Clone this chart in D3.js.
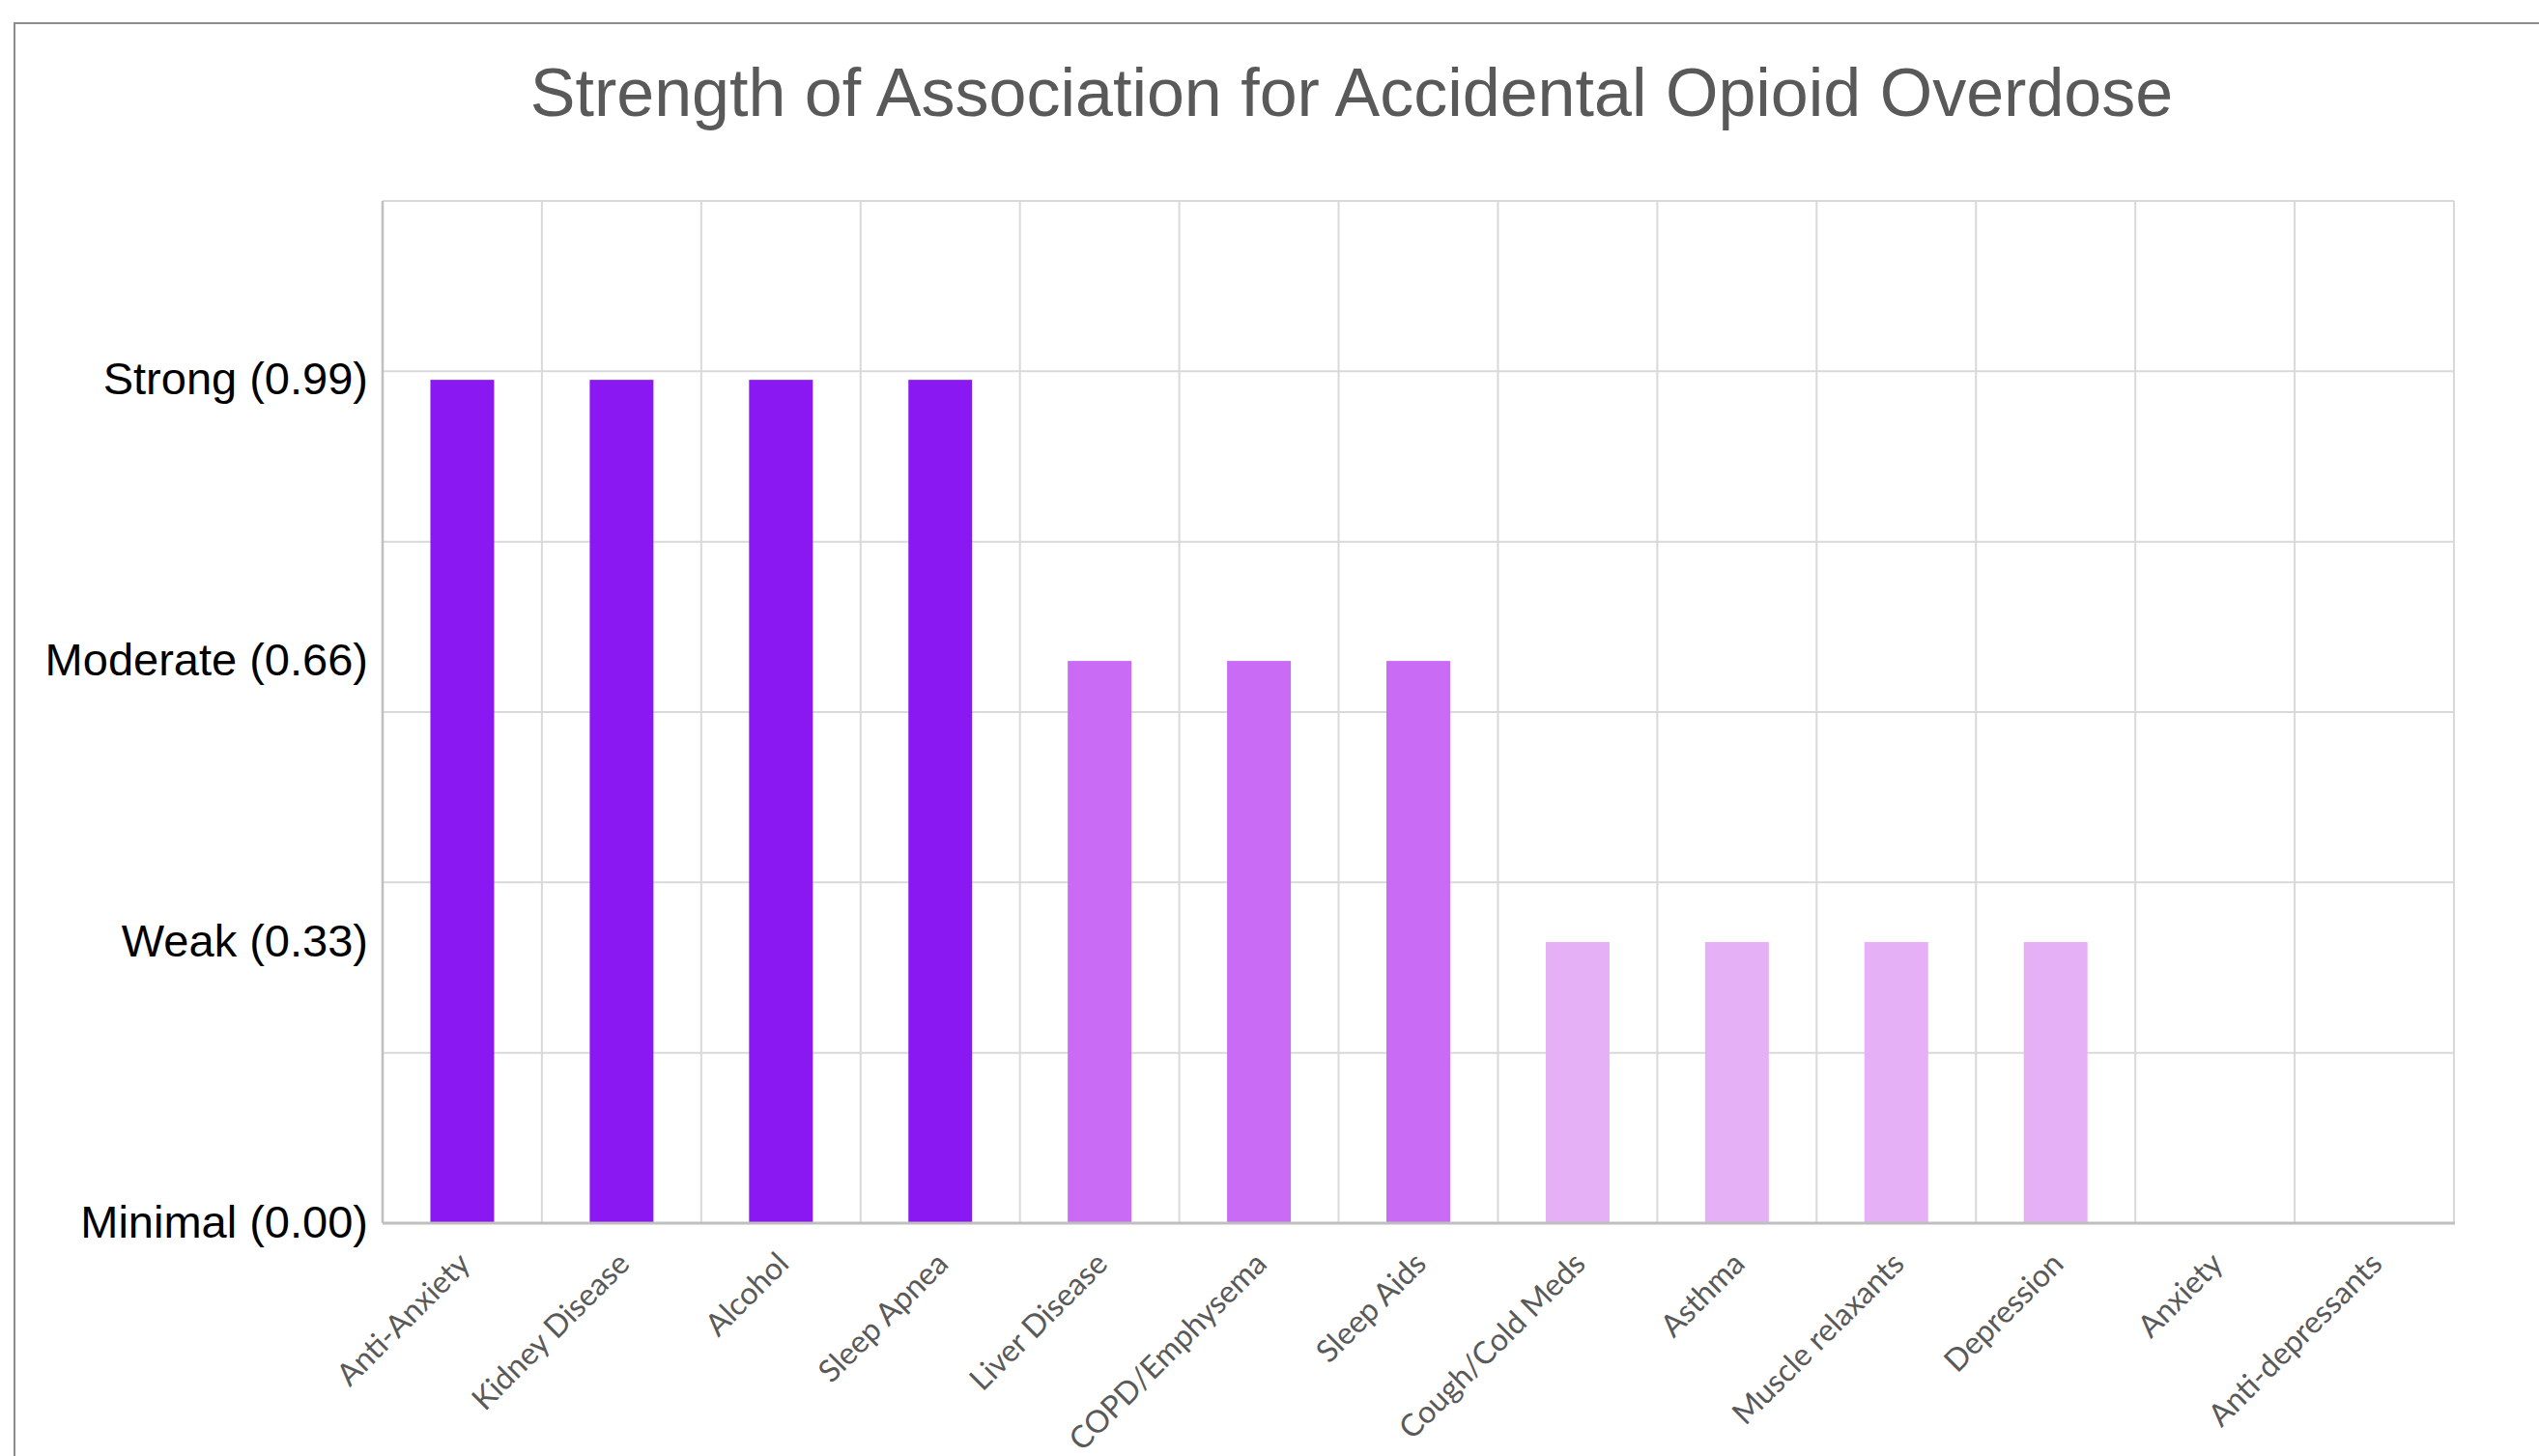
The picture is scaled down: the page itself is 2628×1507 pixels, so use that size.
<!DOCTYPE html>
<html>
<head>
<meta charset="utf-8">
<script src="https://cdn.jsdelivr.net/npm/d3@7"></script>
<style>
  html, body { margin: 0; padding: 0; background: #ffffff; }
  svg { display: block; }
</style>
</head>
<body>
<svg id="chart" width="2628" height="1507"></svg>
<script>
const categories = ["Anti-Anxiety", "Kidney Disease", "Alcohol", "Sleep Apnea", "Liver Disease",
  "COPD/Emphysema", "Sleep Aids", "Cough/Cold Meds", "Asthma", "Muscle relaxants",
  "Depression", "Anxiety", "Anti-depressants"];
const values = [0.99, 0.99, 0.99, 0.99, 0.66, 0.66, 0.66, 0.33, 0.33, 0.33, 0.33, 0, 0];
const tickValues = [0, 0.33, 0.66, 0.99];
const tickLabels = ["Minimal (0.00)", "Weak (0.33)", "Moderate (0.66)", "Strong (0.99)"];
const gridValues = [0, 0.2, 0.4, 0.6, 0.8, 1.0, 1.2];
const levelColors = { 0.99: "#8a18f3", 0.66: "#c96bf5", 0.33: "#e6b0f6", 0: "#e6b0f6" };
const title = "Strength of Association for Accidental Opioid Overdose";

const svg = d3.select("#chart");
const W = 2628, H = 1507;
const plot = { left: 396, right: 2540, top: 208, bottom: 1266 };

// outer frame
svg.append("rect")
  .attr("x", 15).attr("y", 24)
  .attr("width", W + 20).attr("height", H + 20)
  .attr("fill", "none").attr("stroke", "#8c8c8c").attr("stroke-width", 2);

const x = d3.scaleBand().domain(categories).range([plot.left, plot.right]).padding(0);
const y = d3.scaleLinear().domain([0, 1.2]).range([plot.bottom, plot.top]);

// horizontal gridlines
svg.append("g").selectAll("line").data(gridValues).join("line")
  .attr("x1", plot.left).attr("x2", plot.right)
  .attr("y1", d => y(d)).attr("y2", d => y(d))
  .attr("stroke", "#d9d9d9").attr("stroke-width", 2);

// vertical gridlines at band boundaries
const bounds = categories.map(c => x(c)).concat([plot.right]);
svg.append("g").selectAll("line").data(bounds).join("line")
  .attr("x1", d => d).attr("x2", d => d)
  .attr("y1", plot.top).attr("y2", plot.bottom)
  .attr("stroke", "#d9d9d9").attr("stroke-width", 2);

// bars
const barW = x.bandwidth() * 0.4;
svg.append("g").selectAll("rect").data(categories).join("rect")
  .attr("x", d => x(d) + (x.bandwidth() - barW) / 2)
  .attr("width", barW)
  .attr("y", (d, i) => y(values[i]))
  .attr("height", (d, i) => y(0) - y(values[i]))
  .attr("fill", (d, i) => levelColors[values[i]]);

// axis lines
svg.append("line")
  .attr("x1", plot.left).attr("x2", plot.left)
  .attr("y1", plot.top).attr("y2", plot.bottom)
  .attr("stroke", "#bfbfbf").attr("stroke-width", 2.5);
svg.append("line")
  .attr("x1", plot.left).attr("x2", plot.right + 1)
  .attr("y1", plot.bottom).attr("y2", plot.bottom)
  .attr("stroke", "#bfbfbf").attr("stroke-width", 3);

// y axis labels
const yAxis = d3.axisLeft(y).tickValues(tickValues)
  .tickFormat((d, i) => tickLabels[i]).tickSize(0).tickPadding(15);
const gy = svg.append("g").attr("transform", `translate(${plot.left},0)`).call(yAxis);
gy.select(".domain").remove();
gy.selectAll("text")
  .attr("font-family", "'Liberation Sans', Arial, sans-serif")
  .attr("font-size", 47).attr("fill", "#000000").attr("dy", "0.3em");

// x axis labels
const xAxis = d3.axisBottom(x).tickSize(0).tickPadding(0);
const gx = svg.append("g").attr("transform", `translate(0,${plot.bottom})`).call(xAxis);
gx.select(".domain").remove();
gx.selectAll("text")
  .attr("font-family", "Lato, 'Open Sans', sans-serif")
  .attr("font-size", 32).attr("fill", "#595959")
  .attr("text-anchor", "end")
  .attr("dy", 0).attr("y", 0)
  .attr("transform", "translate(10,44) rotate(-45)");

// title
svg.append("text")
  .attr("x", 1399).attr("y", 120)
  .attr("text-anchor", "middle")
  .attr("font-family", "'Liberation Sans', Arial, sans-serif")
  .attr("font-size", 70).attr("fill", "#595959")
  .text(title);
</script>
</body>
</html>
